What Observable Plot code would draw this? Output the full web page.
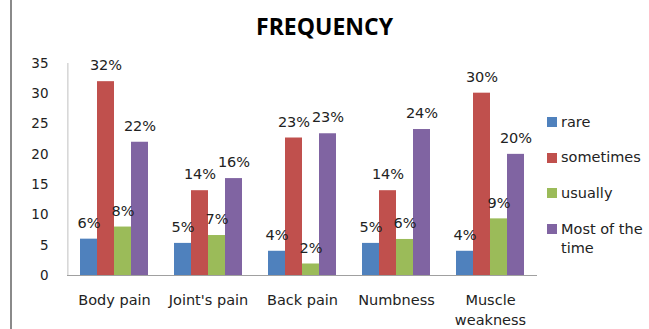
<!DOCTYPE html>
<html><head><meta charset="utf-8">
<script src="https://cdn.jsdelivr.net/npm/d3@7"></script>
<script src="https://cdn.jsdelivr.net/npm/@observablehq/plot@0.6"></script>
<style>
body{margin:0;background:#fff;}
#wrap{position:relative;width:649px;height:329px;overflow:hidden;font-family:"DejaVu Sans",sans-serif;background:#fff;}
#border{position:absolute;left:10px;top:0;width:2px;height:329px;background:#8a8a8a;}
#title{position:absolute;left:0;top:1px;width:649px;height:50px;line-height:50px;text-align:center;font-family:"Open Sans",sans-serif;font-weight:700;font-size:23px;color:#000;}
#chart{position:absolute;left:0;top:50px;}
.item{position:absolute;left:547px;display:flex;align-items:flex-start;font-size:14.5px;line-height:19px;color:#222;}
.sw{width:10px;height:10px;margin-top:4.5px;margin-right:4px;flex:none;}
.lt{width:88px;}
</style></head><body>
<div id="wrap">
  <div id="border"></div>
  <div id="title">FREQUENCY</div>
  <div id="chart"></div>
  <div id="legend"></div>
</div>
<script>
const categories = ["Body pain", "Joint's pain", "Back pain", "Numbness", "Muscle weakness"];
const series = ["rare", "sometimes", "usually", "Most of the time"];
const rare = [6, 5.3, 4, 5.3, 4];
const sometimes = [32, 14, 22.7, 14, 30.1];
const usually = [8, 6.6, 1.9, 5.95, 9.35];
const mostOfTheTime = [22, 16, 23.4, 24.1, 20];
const rareLabels = ["6%", "5%", "4%", "5%", "4%"];
const sometimesLabels = ["32%", "14%", "23%", "14%", "30%"];
const usuallyLabels = ["8%", "7%", "2%", "6%", "9%"];
const mostLabels = ["22%", "16%", "23%", "24%", "20%"];
const yTicks = [0, 5, 10, 15, 20, 25, 30, 35];
const colors = ["#4F81BD", "#C0504D", "#9BBB59", "#8064A2"];

const valueSets = [rare, sometimes, usually, mostOfTheTime];
const labelSets = [rareLabels, sometimesLabels, usuallyLabels, mostLabels];
const rows = [];
categories.forEach((c, i) => {
  series.forEach((s, j) => {
    rows.push({category: c, series: s, value: valueSets[j][i], label: labelSets[j][i]});
  });
});

const outerPad = 0.7246;
const chart = Plot.plot({
  width: 649,
  height: 279,
  marginTop: 13,
  marginBottom: 54,
  marginLeft: 67,
  marginRight: 112,
  style: {fontFamily: "DejaVu Sans, sans-serif", fontSize: "14px", color: "#222", background: "transparent"},
  fx: {domain: categories, padding: 0, label: null},
  x: {domain: series, paddingInner: 0, paddingOuter: outerPad, axis: null},
  y: {domain: [0, 35], axis: null},
  color: {domain: series, range: colors},
  marks: [
    Plot.barY(rows, {fx: "category", x: "series", y: "value", fill: "series"}),
    Plot.ruleY([0], {stroke: "#a0a0a0", strokeWidth: 1.2}),
    Plot.ruleX([categories[0]], {fx: d => d, x: () => series[0], y1: 0, y2: 35,
      dx: -(94 / (series.length + 2 * outerPad)) * (outerPad + 0.5), stroke: "#c0c0c0"}),
    Plot.text(rows, {fx: "category", x: "series", y: "value", text: "label", dy: -16, fontSize: 14.5, fill: "#222"}),
    Plot.axisY({ticks: yTicks, tickSize: 0, tickPadding: 19, fontSize: 13.5, label: null}),
    Plot.axisFx({anchor: "bottom", tickSize: 0, tickPadding: 16, fontSize: 14.5, lineHeight: 1.35, label: null,
      tickFormat: d => d === "Muscle weakness" ? "Muscle\nweakness" : d})
  ]
});
document.getElementById("chart").appendChild(chart);

const centers = [122, 157.7, 193.3, 229];
const legend = document.getElementById("legend");
series.forEach((s, j) => {
  const it = document.createElement("div");
  it.className = "item";
  it.style.top = (centers[j] - 9.5) + "px";
  const sw = document.createElement("div");
  sw.className = "sw";
  sw.style.background = colors[j];
  const t = document.createElement("div");
  t.className = "lt";
  t.textContent = s;
  it.appendChild(sw);
  it.appendChild(t);
  legend.appendChild(it);
});
</script>
</body></html>
